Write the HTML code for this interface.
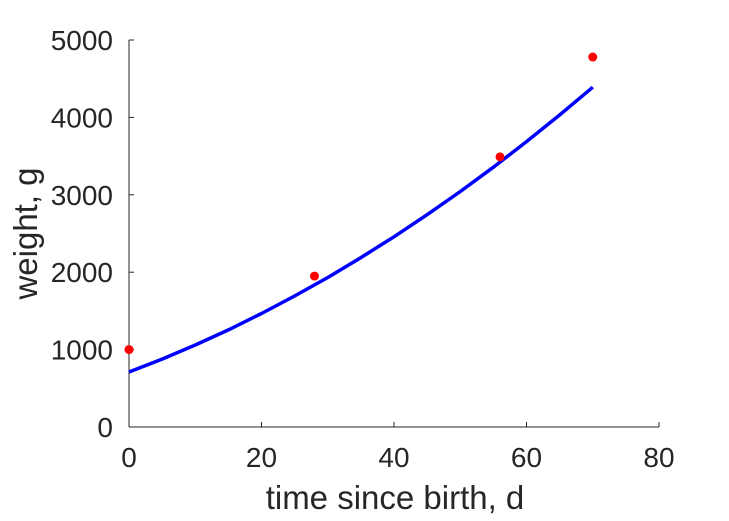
<!DOCTYPE html>
<html><head><meta charset="utf-8"><style>
html,body{margin:0;padding:0;background:#fff}
svg{display:block;font-family:"Liberation Sans",Arial,sans-serif}
</style></head><body>
<svg id="chart" width="729" height="521" viewBox="0 0 729 521" xmlns="http://www.w3.org/2000/svg">
<g id="axes"></g>
<g id="marks"></g>
</svg>
<script>
const xTicks = [0, 20, 40, 60, 80];
const yTicks = [0, 1000, 2000, 3000, 4000, 5000];
const obsTime = [0, 28, 56, 70];
const obsWeight = [1000, 1950, 3490, 4780];
const fitTime = [0, 5, 10, 15, 20, 25, 30, 35, 40, 45, 50, 55, 60, 65, 70];
const fitWeight = [710, 877, 1059, 1255, 1466, 1692, 1932, 2188, 2458, 2743, 3043, 3357, 3687, 4031, 4390];

const X0=129, X1=659, Y0=427, Y1=40;
const xs = v => X0 + (v-0)/(80-0)*(X1-X0);
const ys = v => Y0 - (v-0)/(5000-0)*(Y0-Y1);
const NS="http://www.w3.org/2000/svg";
function mk(tag, attrs, parent){const e=document.createElementNS(NS,tag);for(const k in attrs)e.setAttribute(k,attrs[k]);parent.appendChild(e);return e;}
const axes=document.getElementById('axes'), marks=document.getElementById('marks');
const C="#262626";

let a=mk('line',{x1:X0,y1:Y0,x2:X1,y2:Y0,stroke:C,'stroke-width':1},axes);


a=mk('line',{x1:X0,y1:Y0,x2:X0,y2:Y1,stroke:C,'stroke-width':1},axes);



xTicks.forEach(v=>{
  const t=mk('line',{x1:xs(v),y1:Y0,x2:xs(v),y2:Y0-5,stroke:C},axes);
  
  
  const l=mk('text',{x:xs(v),y:Y0+40,'text-anchor':'middle','font-size':28,fill:C},axes);
  l.textContent=v;
  
  
});
yTicks.forEach(v=>{
  const t=mk('line',{x1:X0,y1:ys(v),x2:X0+5,y2:ys(v),stroke:C},axes);
  
  
  const l=mk('text',{x:X0-16,y:ys(v)+10,'text-anchor':'end','font-size':28,fill:C},axes);
  l.textContent=v;
  
  
});
let xt=mk('text',{x:(X0+X1)/2+1,y:509,'text-anchor':'middle','font-size':33,fill:C},axes);
xt.textContent='time since birth, d';


let yt=mk('text',{x:0,y:0,'text-anchor':'middle','font-size':33,fill:C,transform:`translate(37,${(Y0+Y1)/2}) rotate(-90)`},axes);
yt.textContent='weight, g';



const d=fitTime.map((t,i)=>(i?'L':'M')+xs(t).toFixed(1)+','+ys(fitWeight[i]).toFixed(1)).join(' ');
const p=mk('path',{d:d,fill:'none',stroke:'#0000ff','stroke-width':3.5,'stroke-linejoin':'round'},marks);


obsTime.forEach((t,i)=>{
  const c=mk('circle',{cx:xs(t),cy:ys(obsWeight[i]),r:4.5,fill:'#ff0000'},marks);
  
  
});
</script>
</body></html>
